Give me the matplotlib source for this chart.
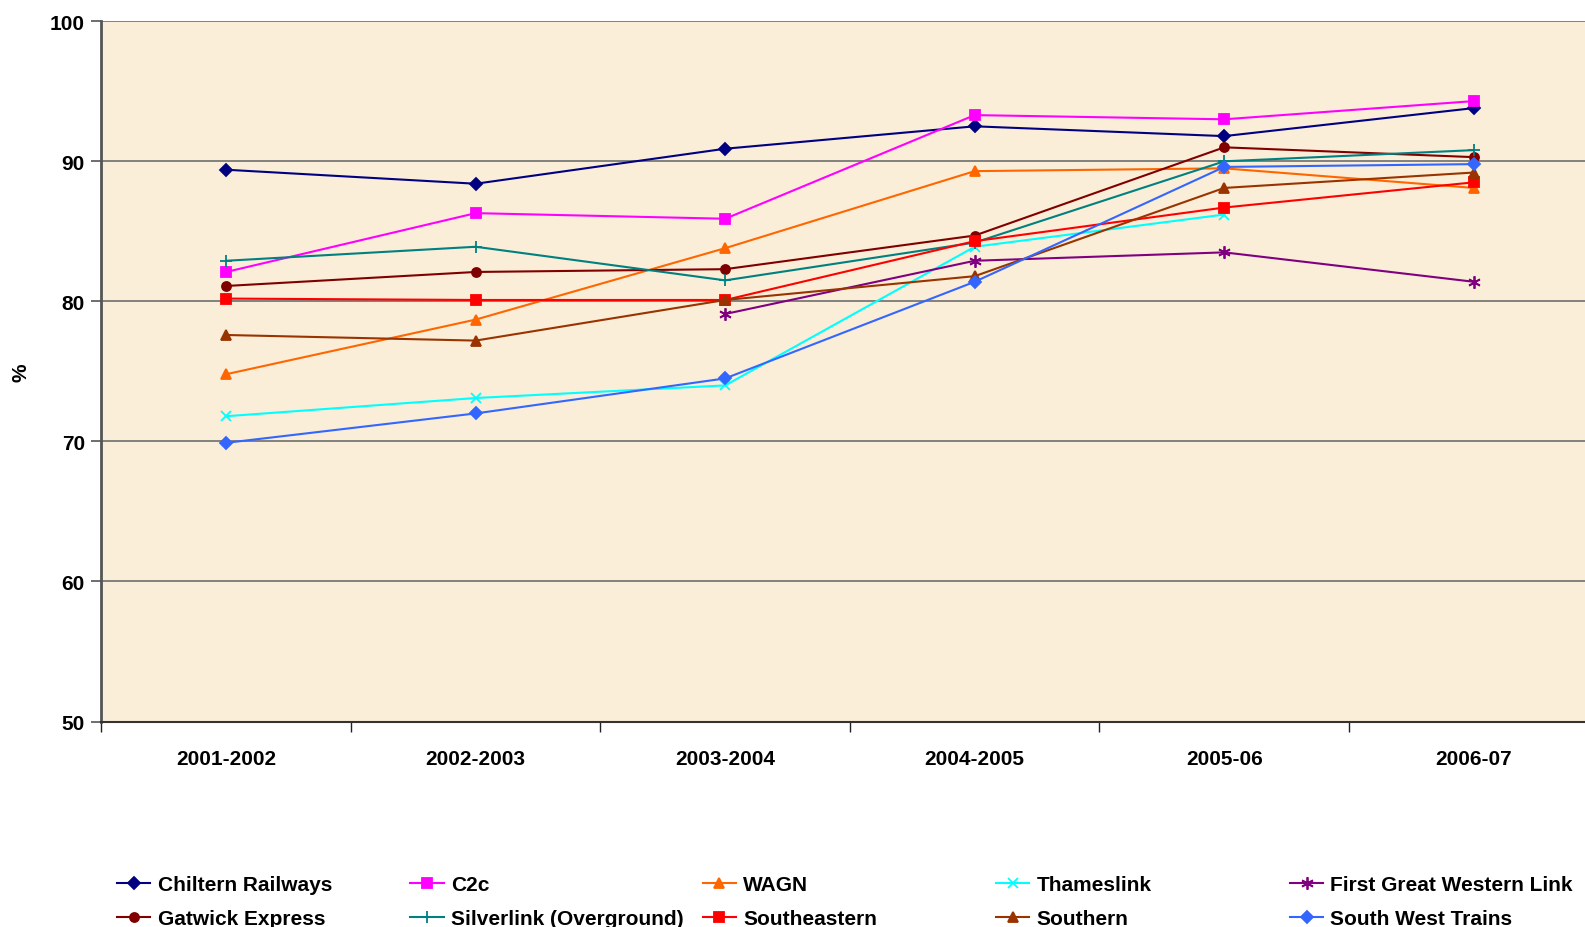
import matplotlib.pyplot as plt
import numpy as np

plt.rcParams["font.family"] = ["Liberation Sans", "DejaVu Sans"]
plt.rcParams["font.weight"] = "bold"

YEARS = ["2001-2002", "2002-2003", "2003-2004", "2004-2005", "2005-06", "2006-07"]

chiltern = [89.4, 88.4, 90.9, 92.5, 91.8, 93.8]
c2c = [82.1, 86.3, 85.9, 93.3, 93.0, 94.3]
wagn = [74.8, 78.7, 83.8, 89.3, 89.5, 88.1]
thameslink = [71.8, 73.1, 74.0, 83.9, 86.2, np.nan]
fgw_link = [np.nan, np.nan, 79.1, 82.9, 83.5, 81.4]
gatwick = [81.1, 82.1, 82.3, 84.7, 91.0, 90.3]
silverlink = [82.9, 83.9, 81.5, 84.2, 90.0, 90.8]
southeastern = [80.2, 80.1, 80.1, 84.3, 86.7, 88.5]
southern = [77.6, 77.2, 80.1, 81.8, 88.1, 89.2]
south_west = [69.9, 72.0, 74.5, 81.4, 89.6, 89.8]

SERIES = [
    ("Chiltern Railways", chiltern, "#000080", "D", 6),
    ("C2c", c2c, "#FF00FF", "s", 6.5),
    ("WAGN", wagn, "#FF6600", "^", 7),
    ("Thameslink", thameslink, "#00FFFF", "x", 7),
    ("First Great Western Link", fgw_link, "#800080", (6, 2, 0), 9),
    ("Gatwick Express", gatwick, "#800000", "o", 6.5),
    ("Silverlink (Overground)", silverlink, "#008080", "+", 8),
    ("Southeastern", southeastern, "#FF0000", "s", 6.5),
    ("Southern", southern, "#993300", "^", 7),
    ("South West Trains", south_west, "#3366FF", "D", 6),
]


def main() -> None:
    fig = plt.figure(figsize=(15.85, 9.28), dpi=100)
    ax = fig.add_axes([0.0640, 0.2214, 0.9445, 0.7546])
    ax.set_facecolor("#FAEED8")

    x = np.arange(len(YEARS))
    handles = []
    for name, values, color, marker, size in SERIES:
        (line,) = ax.plot(x, values, color=color, marker=marker, markersize=size,
                          markeredgewidth=1.3, linewidth=1.5, label=name)
        handles.append(line)

    ax.set_xlim(-0.5, len(YEARS) - 0.5)
    ax.set_ylim(50, 100)
    ax.set_yticks(np.arange(50, 101, 10))
    ax.yaxis.grid(True, color="#6E6E6E", linewidth=1.2)
    ax.set_axisbelow(True)

    ax.set_xticks(x)
    ax.set_xticklabels(YEARS, fontsize=15, fontweight="bold")
    ax.set_xticks(np.arange(-0.5, len(YEARS) - 0.5, 1), minor=True)
    ax.tick_params(axis="x", which="major", length=0, pad=20)
    ax.tick_params(axis="x", which="minor", length=7, width=1, color="#222222")
    ax.tick_params(axis="y", length=7, width=1.2, color="#555555", pad=5, labelsize=15)
    for lbl in ax.get_yticklabels():
        lbl.set_fontweight("bold")

    for side in ("top", "right"):
        ax.spines[side].set_visible(False)
    ax.spines["left"].set_color("#555555")
    ax.spines["left"].set_linewidth(2)
    ax.spines["bottom"].set_color("#333333")
    ax.spines["bottom"].set_linewidth(1.5)

    ax.set_ylabel("%", fontsize=15, fontweight="bold", labelpad=14)

    # five legend columns, two rows each, evenly spaced across the bottom
    col_x = [0.0738, 0.2588, 0.4433, 0.6283, 0.8138]
    for j, cx in enumerate(col_x):
        fig.legend(
            handles=[handles[j], handles[j + 5]],
            loc="upper left",
            bbox_to_anchor=(cx, 0.0555),
            frameon=False,
            prop={"size": 15, "weight": "bold"},
            handlelength=1.6,
            handletextpad=0.35,
            labelspacing=0.7,
            borderpad=0,
            borderaxespad=0,
        )

    fig.savefig("out.png", dpi=100)


if __name__ == "__main__":
    main()
